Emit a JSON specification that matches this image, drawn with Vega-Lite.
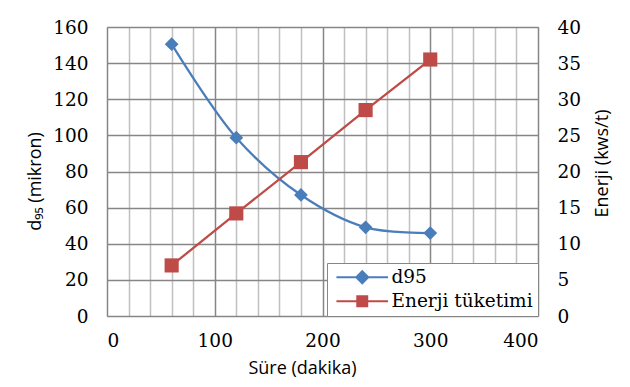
{
  "$schema": "https://vega.github.io/schema/vega-lite/v6.json",
  "width": 431,
  "height": 289,
  "autosize": {"type": "none"},
  "padding": {"left": 107, "top": 27, "right": 92, "bottom": 71},
  "background": "white",
  "config": {
    "view": {"stroke": "#868686", "strokeWidth": 1},
    "axis": {
      "labelFont": "DejaVu Serif",
      "labelFontSize": 18.5,
      "labelColor": "#000000",
      "titleFont": "Open Sans",
      "titleFontSize": 18,
      "titleFontWeight": "normal",
      "titleColor": "#000000",
      "ticks": false,
      "domain": false
    }
  },
  "datasets": {
    "d95": [
      {"sure": 60, "seri": "d95", "deger": 150.5},
      {"sure": 120, "seri": "d95", "deger": 98.7},
      {"sure": 180, "seri": "d95", "deger": 67},
      {"sure": 240, "seri": "d95", "deger": 49.1},
      {"sure": 300, "seri": "d95", "deger": 45.9}
    ],
    "enerji": [
      {"sure": 60, "seri": "Enerji tüketimi", "deger": 7.0},
      {"sure": 120, "seri": "Enerji tüketimi", "deger": 14.2},
      {"sure": 180, "seri": "Enerji tüketimi", "deger": 21.3},
      {"sure": 240, "seri": "Enerji tüketimi", "deger": 28.5},
      {"sure": 300, "seri": "Enerji tüketimi", "deger": 35.5}
    ]
  },
  "encoding": {
    "x": {
      "field": "sure",
      "type": "quantitative",
      "scale": {"domain": [0, 400], "nice": false},
      "axis": {
        "title": "Süre (dakika)",
        "values": [0, 20, 40, 60, 80, 100, 120, 140, 160, 180, 200, 220, 240, 260, 280, 300, 320, 340, 360, 380, 400],
        "labelExpr": "datum.value % 100 === 0 ? datum.label : ''",
        "labelOverlap": false,
        "labelPadding": 15,
        "grid": true,
        "gridColor": {"condition": {"test": "datum.value % 100 === 0", "value": "#868686"}, "value": "#c0c0c0"},
        "gridWidth": 1.5,
        "titleX": 195,
        "titleY": 52,
        "titleBaseline": "middle"
      }
    }
  },
  "layer": [
    {
      "data": {"name": "d95"},
      "encoding": {
        "y": {
          "field": "deger",
          "type": "quantitative",
          "scale": {"domain": [0, 160], "nice": false},
          "axis": {
            "orient": "left",
            "title": "d₉₅ (mikron)",
            "values": [0, 20, 40, 60, 80, 100, 120, 140, 160],
            "grid": true,
            "gridColor": "#868686",
            "gridWidth": 1.5,
            "labelPadding": 19,
            "titleX": -72,
            "titleY": 154,
            "titleAngle": 270,
            "titleBaseline": "middle"
          }
        },
        "color": {
          "field": "seri",
          "type": "nominal",
          "scale": {"domain": ["d95", "Enerji tüketimi"], "range": ["#4a7ebb", "#be4b48"]},
          "legend": {
            "title": null,
            "orient": "bottom-right",
            "offset": 0,
            "fillColor": "white",
            "strokeColor": "#868686",
            "padding": 5,
            "symbolSize": 144,
            "symbolOffset": 21,
            "labelOffset": 20,
            "labelFont": "DejaVu Serif",
            "labelFontSize": 18.5,
            "labelColor": "#000000",
            "rowPadding": 4,
            "encode": {
              "symbols": {
                "update": {
                  "shape": {"signal": "datum.value === 'd95' ? 'M-4.3,0H4.3M0,-1L1,0L0,1L-1,0Z' : 'M-4.3,0H4.3M-0.83,-0.83H0.83V0.83H-0.83Z'"},
                  "fill": {"signal": "datum.value === 'd95' ? '#4a7ebb' : '#be4b48'"},
                  "stroke": {"signal": "datum.value === 'd95' ? '#4a7ebb' : '#be4b48'"},
                  "strokeWidth": {"value": 2},
                  "opacity": {"value": 1},
                  "fillOpacity": {"value": 1}
                }
              }
            }
          }
        }
      },
      "layer": [
        {"mark": {"type": "line", "interpolate": "catmull-rom", "strokeWidth": 2.25}},
        {"mark": {"type": "point", "shape": "diamond", "filled": true, "size": 190, "opacity": 1}}
      ]
    },
    {
      "data": {"name": "enerji"},
      "encoding": {
        "y": {
          "field": "deger",
          "type": "quantitative",
          "scale": {"domain": [0, 40], "nice": false},
          "axis": {
            "orient": "right",
            "title": "Enerji (kws/t)",
            "values": [0, 5, 10, 15, 20, 25, 30, 35, 40],
            "grid": false,
            "labelPadding": 19,
            "titleX": 64,
            "titleY": 136,
            "titleAngle": 270,
            "titleBaseline": "middle"
          }
        },
        "color": {"field": "seri", "type": "nominal"}
      },
      "layer": [
        {"mark": {"type": "line", "strokeWidth": 2.25}},
        {"mark": {"type": "point", "shape": "square", "filled": true, "size": 200, "opacity": 1}}
      ]
    }
  ],
  "resolve": {"scale": {"y": "independent"}}
}
